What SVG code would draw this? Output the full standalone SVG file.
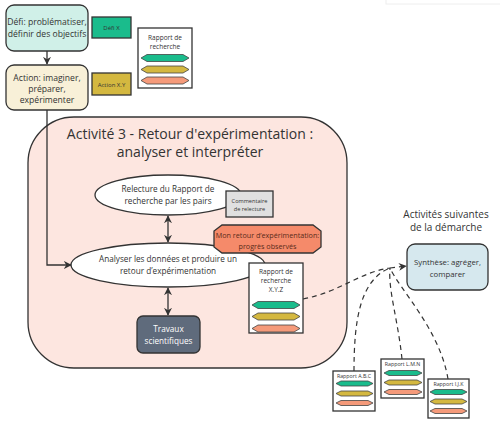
<svg xmlns="http://www.w3.org/2000/svg" width="500" height="425" viewBox="0 0 500 425">
<defs>
<style>
text{font-family:"Open Sans","Noto Sans","DejaVu Sans",sans-serif;fill:#333;text-anchor:middle}
.box{stroke:#333;stroke-width:1.3}
.hg{fill:#1abc8c;stroke:#444;stroke-width:0.8}
.hy{fill:#d4b840;stroke:#444;stroke-width:0.8}
.hs{fill:#f59a7a;stroke:#444;stroke-width:0.8}
.conn{fill:none;stroke:#333;stroke-width:1.3}
.dash{fill:none;stroke:#333;stroke-width:1.2;stroke-dasharray:5,4}
</style>
<marker id="arr" viewBox="0 0 10 10" refX="9" refY="5" markerWidth="8" markerHeight="8" markerUnits="userSpaceOnUse" orient="auto-start-reverse">
<path d="M0,0 L10,5 L0,10 L3,5 z" fill="#333"/>
</marker>
</defs>
<rect x="386" y="-6" width="120" height="10" fill="#fff" stroke="#eee"/>

<g id="activite3">
<rect class="box" x="28" y="117" width="319" height="251" rx="46" fill="#fde6e0"/>
<text x="190" y="139" font-size="14">Activité 3 - Retour d'expérimentation :</text>
<text x="190" y="157" font-size="14">analyser et interpréter</text>
</g>

<g id="defi">
<rect class="box" x="6" y="5" width="82" height="46" rx="8" fill="#d0f0e8"/>
<text x="47" y="25" font-size="8.6">Défi: problématiser,</text>
<text x="47" y="37" font-size="8.6">définir des objectifs</text>
</g>
<g id="defiX">
<rect class="box" x="92" y="17" width="39" height="21" fill="#1abc8c"/>
<text x="111.5" y="30" font-size="6">Défi X</text>
</g>
<g id="action">
<rect class="box" x="6" y="65" width="82" height="45" rx="8" fill="#f8f0d8"/>
<text x="47" y="81" font-size="8.6">Action: imaginer,</text>
<text x="47" y="92" font-size="8.6">préparer,</text>
<text x="47" y="103" font-size="8.6">expérimenter</text>
</g>
<g id="actionXY">
<rect class="box" x="92" y="73" width="39" height="22" fill="#d4b840"/>
<text x="111.5" y="86.5" font-size="6">Action X.Y</text>
</g>
<g id="rapport">
<rect class="box" x="138" y="28" width="54" height="60" fill="#fff"/>
<text x="165" y="40" font-size="6.5">Rapport de</text>
<text x="165" y="49" font-size="6.5">recherche</text>
<polygon class="hg" points="141,58 147,54.5 183,54.5 189,58 183,61.5 147,61.5"/>
<polygon class="hy" points="141,69.5 147,66 183,66 189,69.5 183,73 147,73"/>
<polygon class="hs" points="141,80.5 147,77 183,77 189,80.5 183,84 147,84"/>
</g>

<g id="relecture">
<ellipse class="box" cx="168" cy="195" rx="73" ry="20" fill="#fff"/>
<text x="168" y="192" font-size="8.2">Relecture du Rapport de</text>
<text x="168" y="204" font-size="8.2">recherche par les pairs</text>
</g>
<g id="commentaire">
<rect class="box" x="226" y="191" width="47" height="26" fill="#e0e0e0"/>
<text x="249.5" y="203" font-size="5.6">Commentaire</text>
<text x="249.5" y="211" font-size="5.6">de relecture</text>
</g>
<g id="analyser">
<ellipse class="box" cx="168" cy="265" rx="97" ry="22" fill="#fff"/>
<text x="168" y="262" font-size="8.2">Analyser les données et produire un</text>
<text x="168" y="274" font-size="8.2">retour d’expérimentation</text>
</g>
<g id="monretour">
<polygon class="box" points="222,225 313,225 321,231 321,247 313,253 222,253 214,247 214,231" fill="#f58a6a"/>
<text x="267.5" y="238" font-size="7.2" style="fill:#5a2a1a">Mon retour d’expérimentation:</text>
<text x="267.5" y="249" font-size="7.2" style="fill:#5a2a1a">progrès observés</text>
</g>
<g id="rapportXYZ">
<rect class="box" x="249" y="263" width="54" height="70" fill="#fff"/>
<text x="276" y="274" font-size="6.5">Rapport de</text>
<text x="276" y="283" font-size="6.5">recherche</text>
<text x="276" y="292" font-size="6.5">X.Y.Z</text>
<polygon class="hg" points="252,305 258,301.5 294,301.5 300,305 294,308.5 258,308.5"/>
<polygon class="hy" points="252,316.5 258,313 294,313 300,316.5 294,320 258,320"/>
<polygon class="hs" points="252,328.5 258,325 294,325 300,328.5 294,332 258,332"/>
</g>
<g id="travaux">
<rect class="box" x="137" y="316" width="63" height="37" rx="6" fill="#5f6b7c"/>
<text x="168.5" y="332" font-size="8.2" style="fill:#fff">Travaux</text>
<text x="168.5" y="344" font-size="8.2" style="fill:#fff">scientifiques</text>
</g>

<g id="suivantes">
<text x="446" y="218" font-size="10">Activités suivantes</text>
<text x="446" y="231" font-size="10">de la démarche</text>
</g>
<g id="synthese">
<rect class="box" x="407" y="244" width="81" height="46" rx="8" fill="#d6e8ee"/>
<text x="447.5" y="265" font-size="7.8">Synthèse: agréger,</text>
<text x="447.5" y="277" font-size="7.8">comparer</text>
</g>

<g id="rapportABC">
<rect class="box" x="333" y="371" width="42" height="40" fill="#fff"/>
<text x="354" y="378" font-size="5.3">Rapport A.B.C</text>
<polygon class="hg" points="336,383.5 341,381 368,381 373,383.5 368,386 341,386"/>
<polygon class="hy" points="336,393.5 341,391 368,391 373,393.5 368,396 341,396"/>
<polygon class="hs" points="336,403 341,400.5 368,400.5 373,403 368,405.5 341,405.5"/>
</g>
<g id="rapportLMN">
<rect class="box" x="381" y="359" width="43" height="39" fill="#fff"/>
<text x="402.5" y="366" font-size="5.3">Rapport L.M.N</text>
<polygon class="hg" points="384,373 389,370.5 417,370.5 422,373 417,375.5 389,375.5"/>
<polygon class="hy" points="384,382.5 389,380 417,380 422,382.5 417,385 389,385"/>
<polygon class="hs" points="384,392 389,389.5 417,389.5 422,392 417,394.5 389,394.5"/>
</g>
<g id="rapportIJK">
<rect class="box" x="428" y="379" width="41" height="39" fill="#fff"/>
<text x="448.5" y="386" font-size="5.3">Rapport I.J.K</text>
<polygon class="hg" points="430,392 435,389.5 462,389.5 467,392 462,394.5 435,394.5"/>
<polygon class="hy" points="430,401.5 435,399 462,399 467,401.5 462,404 435,404"/>
<polygon class="hs" points="430,411 435,408.5 462,408.5 467,411 462,413.5 435,413.5"/>
</g>

<g id="connectors">
<path class="conn" d="M47,51 V64" marker-end="url(#arr)"/>
<path class="conn" d="M47,110 V265 H71" marker-end="url(#arr)"/>
<path class="conn" d="M168,216 V242" marker-start="url(#arr)" marker-end="url(#arr)"/>
<path class="conn" d="M168,288 V315" marker-start="url(#arr)" marker-end="url(#arr)"/>
<path class="dash" d="M303,299 C340,292 360,272 390,268"/>
<path class="dash" d="M354,371 C354,320 360,280 390,268"/>
<path class="dash" d="M402,359 C398,320 388,290 390,268"/>
<path class="dash" d="M448,379 C440,330 400,290 390,268"/>
<path class="dash" d="M390,268 L406,266" marker-end="url(#arr)"/>
</g>
</svg>
